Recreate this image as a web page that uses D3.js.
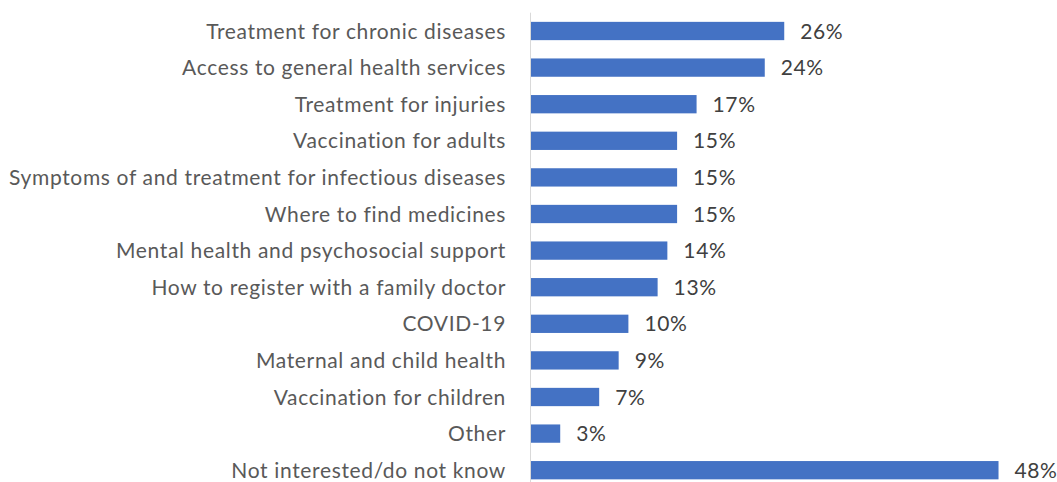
<!DOCTYPE html>
<html><head><meta charset="utf-8">
<script src="https://cdn.jsdelivr.net/npm/d3@7"></script>
<style>body{margin:0;background:#fff}</style>
</head><body>
<svg id="c" width="1057" height="482"></svg>
<script>
const categories = ["Treatment for chronic diseases","Access to general health services","Treatment for injuries","Vaccination for adults","Symptoms of and treatment for infectious diseases","Where to find medicines","Mental health and psychosocial support","How to register with a family doctor","COVID-19","Maternal and child health","Vaccination for children","Other","Not interested/do not know"];
const values = [26,24,17,15,15,15,14,13,10,9,7,3,48];

const svg = d3.select("#c");
const x = d3.scaleLinear().domain([0,50]).range([531,1018]);
const y = d3.scaleBand().domain(categories).range([12.7, 12.7+13*36.6]).paddingInner(0.5).paddingOuter(0.25);
const font = "Lato";
const fs = 21;
svg.append("g").selectAll("rect").data(values).join("rect")
  .attr("x", x(0)).attr("y",(d,i)=>y(categories[i])).attr("width",d=>x(d)-x(0)).attr("height",y.bandwidth()).attr("fill","#4472c4");
svg.append("line").attr("x1",530.5).attr("x2",530.5).attr("y1",12.7).attr("y2",482).attr("stroke","#d9d9d9").attr("stroke-width",1);
svg.append("g").selectAll("text").data(categories).join("text")
  .attr("x",506).attr("y",d=>y(d)+y.bandwidth()/2).attr("dy","0.36em").attr("text-anchor","end")
  .attr("font-family",font).attr("font-size",fs).attr("letter-spacing","0.65px").attr("fill","#595959").text(d=>d);
svg.append("g").selectAll("text").data(values).join("text")
  .attr("x",d=>x(d)+16).attr("y",(d,i)=>y(categories[i])+y.bandwidth()/2).attr("dy","0.36em")
  .attr("font-family",font).attr("font-size",fs).attr("letter-spacing","0.6px").attr("fill","#404040").text(d=>d+"%");
</script>
</body></html>
